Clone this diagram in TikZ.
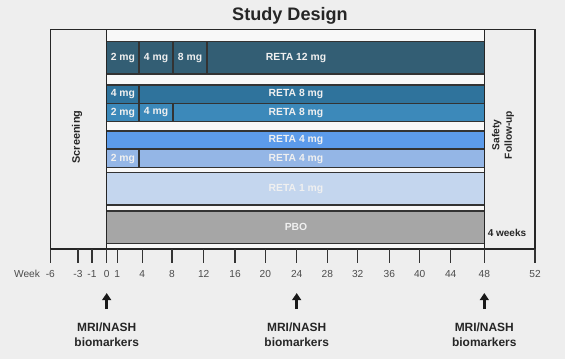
\documentclass[tikz,border=0pt]{standalone}
\usepackage{fontspec}
\setmainfont{Liberation Sans}
\usetikzlibrary{arrows.meta}
\definecolor{bg}{HTML}{EEEEEE}
\definecolor{inner}{HTML}{F8F8F8}
\definecolor{rA}{HTML}{335E74}
\definecolor{rB}{HTML}{2F739C}
\definecolor{rC}{HTML}{3C89BA}
\definecolor{rD}{HTML}{5C9BEA}
\definecolor{rE}{HTML}{94B6E6}
\definecolor{rF}{HTML}{C4D6EE}
\definecolor{rG}{HTML}{A6A6A6}
\begin{document}
\begin{tikzpicture}[x=0.02cm,y=-0.02cm,
  bar/.style={draw=black!80,line width=0.6pt},
  mg/.style={text=white!88!gray,font=\bfseries\fontsize{5.9}{7}\selectfont,inner sep=0pt},
  tick/.style={draw=black!80,line width=0.7pt},
  wk/.style={text=black!70,font=\fontsize{5.8}{7}\selectfont},
  mri/.style={align=center,font=\bfseries\fontsize{6.8}{8.5}\selectfont,text=black!85},
  up/.style={-{Triangle[width=5pt,length=4pt]},line width=2pt,shorten <=4.5pt}]
\fill[bg](0,0)rectangle(565,359);
\fill[inner](106.7,29.3)rectangle(484.3,249);
\node[font=\bfseries\fontsize{10.3}{12}\selectfont,text=black!85](ttl)at(290,16){Study Design};
% treatment arms
\foreach \n/\ya/\yb/\c/\t in {1/41.7/74/rA/RETA 12 mg,2/85/103.3/rB/RETA 8 mg,3/103.3/121.7/rC/RETA 8 mg,4/131/149/rD/RETA 4 mg,5/149.7/167.7/rE/RETA 4 mg,6/172.3/205/rF/RETA 1 mg,7/211/243.3/rG/PBO}{
\draw[bar,fill=\c](106.7,\ya)rectangle(484.3,\yb);\node[mg](r\n)at(296,{(\ya+\yb)/2}){\t};}
% titration steps
\foreach \k/\xa/\xb/\ya/\yb/\t in {1/106.7/139/41.7/74/2 mg,2/139/173/41.7/74/4 mg,3/173/207/41.7/74/8 mg,4/106.7/139/85/103.3/4 mg,5/106.7/139/103.3/121.7/2 mg,6/139/173/103.3/121.7/4 mg,7/106.7/139/149.7/167.7/2 mg}{
\draw[bar](\xa,\ya)rectangle(\xb,\yb);\node[mg](s\k)at({(\xa+\xb)/2},{(\ya+\yb)/2}){\t};}
\draw[bar](207,41.7)--(207,74);
% frame
\draw[line width=0.7pt,black!85](50.3,29.3)rectangle(535,249);
\draw[line width=0.7pt,black!85](106.7,29.3)--(106.7,249)(484.3,29.3)--(484.3,249);
\node[rotate=90,font=\bfseries\fontsize{6.2}{7}\selectfont,text=black!85](scr)at(77,137){Screening};
\node[rotate=90,align=center,font=\bfseries\fontsize{5.8}{7.1}\selectfont,text=black!85](saf)at(503,135){Safety\\Follow-up};
\node[font=\bfseries\fontsize{5.7}{7}\selectfont,text=black!85](fu)at(507,233){4 weeks};
% week axis
\node[wk](week)at(27,274){Week};
\foreach \w/\x [count=\k] in {-6/50.3,-3/78,-1/92,0/106.7,1/117.3,4/142.3,8/172,12/203.7,16/235,20/265.3,24/296.7,28/327.3,32/357.7,36/389.3,40/419.7,44/450.7,48/484.3,52/535}{
\draw[tick](\x,249)--(\x,263);\node[wk](w\k)at(\x,274){\w};}
% imaging visits
\foreach \k/\x in {0/106.7,1/296.7,2/484.3}{
\node[mri](m\k)at(\x,335){MRI/NASH\\biomarkers};\coordinate(t\k)at(\x,293);\draw[up,black!90](m\k)--(t\k);}
\end{tikzpicture}
\end{document}
